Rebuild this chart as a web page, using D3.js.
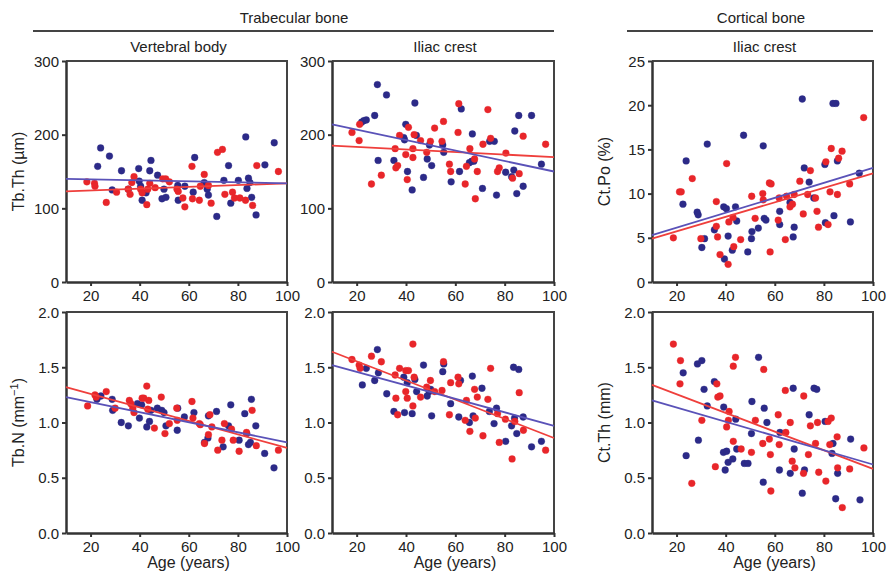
<!DOCTYPE html>
<html>
<head>
<meta charset="utf-8">
<script src="https://d3js.org/d3.v7.min.js"></script>
<style>
  body { margin: 0; background: #fff; }
  svg text { font-family: "Liberation Sans", Arial, sans-serif; fill: #222; }
</style>
</head>
<body>
<svg id="chart" width="888" height="573"></svg>
<script>
  // ---- data (age in years, measured value) ----
  const ageTicks = [20, 40, 60, 80, 100];

  const vbThBlue = [[22.9,157],[24.1,182],[27.7,171],[28.8,125],[32.6,151],[35.4,126],[39.6,154],[39.8,137],[40.4,130],[41.0,111],[42.6,121],[44.1,151],[44.6,165],[47.3,145],[49.1,113],[49.9,126],[50.7,115],[55.5,131],[55.7,111],[58.4,130],[61.8,122],[62.4,169],[66.3,135],[67.5,126],[68.0,118],[71.4,89],[74.3,138],[76.2,158],[77.1,107],[80.2,138],[83.2,197],[83.7,127],[84.3,141],[84.9,135],[85.6,115],[87.4,91],[91.0,159],[94.8,189]];
  const vbThRed = [[18.5,136],[21.6,134],[21.8,130],[26.4,108],[30.6,122],[35.3,126],[36.1,119],[36.8,135],[37.7,143],[40.4,126],[41.0,121],[42.9,105],[43.3,126],[44.1,134],[46.3,128],[49.4,140],[50.6,140],[52.1,136],[55.2,126],[55.7,123],[57.6,114],[58.4,102],[61.3,157],[61.5,113],[64.3,111],[64.7,130],[66.3,146],[68.0,131],[69.1,107],[71.7,176],[73.7,180],[74.7,119],[77.8,122],[78.6,114],[80.8,114],[83.1,111],[86.0,104],[87.7,158],[96.5,150]];

  const icThBlue = [[22.0,217],[22.9,219],[23.9,220],[27.3,226],[28.4,268],[28.7,165],[32.1,254],[35.1,165],[39.1,196],[39.4,193],[39.9,214],[40.6,150],[42.5,125],[43.6,243],[44.2,199],[47.1,142],[48.6,167],[49.5,186],[50.4,158],[54.9,186],[55.3,176],[58.3,136],[61.7,150],[62.4,235],[65.7,162],[66.7,164],[67.5,164],[66.9,201],[71.0,127],[73.9,191],[75.8,191],[76.7,118],[80.4,149],[82.8,143],[83.7,152],[84.1,205],[84.9,120],[85.7,226],[87.5,130],[90.9,226],[94.9,160]];
  const icThRed = [[18.1,203],[21.0,192],[21.2,214],[26.0,133],[30.0,145],[35.6,181],[35.9,155],[36.6,158],[37.4,199],[39.9,173],[40.5,139],[41.0,210],[42.8,181],[42.8,169],[43.3,200],[45.9,192],[48.4,176],[49.9,191],[51.6,209],[54.6,191],[55.2,218],[57.6,160],[58.1,150],[61.1,203],[61.4,242],[64.0,133],[64.5,157],[65.9,181],[67.8,167],[68.1,113],[68.9,150],[71.2,187],[73.2,234],[74.3,195],[77.1,150],[77.8,155],[80.5,175],[83.2,141],[85.9,147],[87.5,198],[96.6,187]];

  const ctPoBlue = [[22.6,8.8],[23.9,13.7],[28.4,7.9],[28.8,7.6],[30.3,3.9],[31.4,4.9],[32.5,15.6],[35.4,5.9],[39.2,8.5],[39.5,2.6],[40.3,8.3],[41.0,5.2],[42.7,3.6],[44.0,8.5],[44.5,6.9],[47.3,16.6],[49.0,3.4],[50.5,4.9],[50.7,5.7],[53.3,6.1],[55.3,15.4],[55.7,7.2],[56.4,7.0],[62.0,8.0],[62.0,6.5],[66.2,9.0],[67.5,5.1],[67.9,6.2],[71.2,20.7],[72.0,12.9],[74.0,11.3],[75.9,9.5],[80.6,6.7],[80.4,13.3],[83.7,20.2],[84.9,20.2],[84.1,7.5],[85.5,13.7],[90.8,6.8],[94.4,12.3]];
  const ctPoRed = [[18.7,5.0],[21.2,10.2],[21.9,10.2],[26.4,11.7],[29.9,4.9],[36.2,9.1],[36.2,6.3],[36.7,5.1],[37.7,3.1],[40.4,13.4],[41.0,2.0],[41.3,6.8],[43.0,7.3],[43.3,4.0],[46.1,4.8],[50.6,9.7],[52.0,7.2],[55.1,10.0],[55.3,9.3],[57.8,11.2],[58.5,11.1],[58.1,3.4],[61.4,7.0],[61.8,9.5],[64.3,4.8],[64.8,9.7],[66.2,8.5],[67.2,8.8],[67.9,9.9],[70.2,11.4],[71.6,7.7],[73.4,9.9],[74.5,12.6],[76.6,9.5],[77.2,8.0],[77.8,6.2],[80.8,13.6],[81.7,6.5],[82.5,10.2],[83.0,15.1],[85.5,9.9],[86.0,14.0],[87.4,14.8],[90.5,11.1],[96.2,18.6]];

  const vbNBlue = [[22.6,1.21],[24.2,1.24],[28.8,1.21],[29.0,1.11],[32.5,1.00],[35.4,0.97],[39.1,1.17],[39.9,1.04],[40.8,1.16],[42.9,0.96],[44.0,1.01],[44.6,1.11],[47.2,1.13],[49.0,1.11],[49.9,1.09],[50.7,0.97],[55.5,1.13],[55.3,0.93],[58.2,1.05],[62.1,1.09],[66.4,0.82],[67.8,0.86],[68.0,1.06],[71.3,1.10],[74.0,0.78],[76.2,0.97],[77.1,1.16],[80.5,0.84],[82.8,1.08],[83.6,0.90],[84.3,0.80],[85.1,0.82],[85.5,1.21],[87.3,0.97],[90.9,0.72],[94.7,0.59]];
  const vbNRed = [[18.8,1.15],[21.8,1.25],[22.3,1.23],[26.4,1.28],[30.0,1.13],[35.8,1.20],[36.4,1.17],[37.2,1.13],[37.7,1.09],[41.0,1.22],[41.7,1.22],[42.9,1.33],[43.3,1.12],[43.7,1.20],[46.0,0.95],[48.8,1.23],[50.3,0.90],[52.1,0.99],[55.1,1.13],[55.3,1.02],[61.3,1.19],[61.7,1.04],[64.3,0.99],[64.7,0.98],[66.4,0.81],[68.0,0.89],[68.6,1.07],[69.4,0.96],[71.8,0.75],[73.5,0.84],[74.5,0.99],[77.4,0.94],[78.1,0.84],[80.5,0.74],[83.5,0.91],[85.8,1.11],[87.5,0.79],[96.5,0.75]];

  const icNBlue = [[22.3,1.34],[23.9,1.49],[27.3,1.38],[28.4,1.66],[28.8,1.45],[32.2,1.26],[35.1,1.10],[39.1,1.41],[39.4,1.09],[40.5,1.36],[42.5,1.08],[43.6,1.39],[44.3,1.28],[47.1,1.52],[48.6,1.24],[49.4,1.28],[50.0,1.30],[50.4,1.06],[54.9,1.46],[55.3,1.53],[58.1,1.17],[61.4,1.05],[62.1,1.38],[65.7,1.00],[66.9,1.42],[67.2,1.06],[70.8,1.31],[73.8,1.10],[75.7,0.99],[76.7,1.13],[80.4,0.83],[82.8,0.97],[83.6,1.50],[84.0,1.04],[84.9,0.90],[85.7,1.48],[87.5,1.05],[90.9,0.78],[94.9,0.83]];
  const icNRed = [[18.1,1.57],[21.0,1.52],[21.4,1.49],[26.0,1.60],[30.0,1.55],[35.6,1.43],[35.9,1.22],[36.6,1.07],[37.4,1.49],[39.9,1.47],[39.9,1.28],[40.5,1.22],[41.0,1.47],[42.8,1.15],[42.8,1.71],[43.3,1.41],[45.9,1.23],[48.4,1.32],[49.9,1.38],[51.6,1.28],[54.6,1.29],[55.2,1.55],[57.6,1.07],[58.1,1.36],[61.1,1.41],[61.4,1.35],[64.0,1.02],[64.5,1.20],[65.9,0.92],[67.8,1.30],[68.1,1.04],[68.9,1.23],[71.2,0.88],[73.2,1.21],[74.3,1.49],[77.1,1.08],[77.8,0.82],[80.3,1.03],[83.0,0.67],[84.1,1.01],[85.9,1.27],[87.6,0.93],[96.6,0.75]];

  const ctThBlue = [[22.7,1.45],[23.9,0.70],[28.5,1.53],[28.9,0.84],[30.3,1.56],[31.2,1.30],[32.5,1.15],[35.4,1.37],[39.2,1.14],[39.1,0.73],[39.8,0.57],[40.4,0.74],[41.0,0.64],[42.9,0.67],[44.1,1.03],[44.5,0.76],[47.6,0.63],[49.1,0.63],[50.5,0.90],[50.7,1.19],[53.4,1.59],[55.3,0.46],[55.7,1.13],[56.8,1.00],[62.1,0.91],[61.9,0.57],[66.3,0.54],[67.5,1.31],[67.9,0.76],[71.2,0.36],[72.1,0.57],[74.0,1.07],[76.0,1.31],[77.1,1.30],[80.5,1.01],[83.7,0.81],[83.3,0.72],[84.8,0.31],[85.6,0.54],[90.9,0.85],[94.7,0.30]];
  const ctThRed = [[18.7,1.71],[21.6,1.56],[21.4,1.35],[26.2,0.45],[30.3,1.02],[35.8,0.60],[36.4,1.35],[36.8,1.23],[37.7,1.24],[40.4,0.96],[41.1,1.02],[41.4,1.10],[43.1,1.51],[43.1,0.83],[44.0,1.59],[46.3,0.76],[50.5,0.73],[52.1,1.02],[55.1,0.81],[55.5,1.48],[57.8,0.85],[58.2,0.71],[58.4,0.38],[61.4,1.07],[61.8,0.80],[64.5,0.91],[64.3,1.29],[66.3,1.00],[67.1,0.65],[68.2,0.59],[71.7,0.54],[71.8,1.24],[73.7,0.71],[74.5,0.97],[76.6,0.81],[77.4,1.00],[77.9,0.55],[80.8,0.47],[81.7,1.01],[82.4,0.80],[83.0,1.04],[85.4,0.87],[85.6,0.59],[87.5,0.23],[90.5,0.58],[96.3,0.77]];

  // regression lines: value at age 10 and at age 100
  const fitAges = [10, 100];
  const vbThFit = { blue: [140, 134], red: [123, 134] };
  const icThFit = { blue: [214, 150], red: [185, 169.5] };
  const ctPoFit = { blue: [5.3, 12.9], red: [4.9, 12.3] };
  const vbNFit = { blue: [1.23, 0.82], red: [1.32, 0.77] };
  const icNFit = { blue: [1.52, 0.97], red: [1.64, 0.86] };
  const ctThFit = { blue: [1.20, 0.62], red: [1.34, 0.58] };

  const thTicks = [0, 100, 200, 300];
  const poTicks = [0, 5, 10, 15, 20, 25];
  const nTicks = [0, 0.5, 1.0, 1.5, 2.0];

  // ---- layout ----
  const cols = [[66, 287], [332, 554], [652, 873]];
  const rows = [[61, 282], [312, 533]];
  const blueDot = "#2c2a88", redDot = "#e8262a";
  const blueLine = "#5a52b8", redLine = "#ef3f3c";

  const panels = [
    { c: 0, r: 0, blue: vbThBlue, red: vbThRed, fit: vbThFit, y: [0, 300], ticks: thTicks, fmt: d3.format("d"), sub: "Vertebral body", ylab: "Tb.Th (\u00b5m)" },
    { c: 1, r: 0, blue: icThBlue, red: icThRed, fit: icThFit, y: [0, 300], ticks: thTicks, fmt: d3.format("d"), sub: "Iliac crest" },
    { c: 2, r: 0, blue: ctPoBlue, red: ctPoRed, fit: ctPoFit, y: [0, 25], ticks: poTicks, fmt: d3.format("d"), sub: "Iliac crest", ylab: "Ct.Po (%)" },
    { c: 0, r: 1, blue: vbNBlue, red: vbNRed, fit: vbNFit, y: [0, 2], ticks: nTicks, fmt: d3.format(".1f"), ylab: "tbn", xlab: true },
    { c: 1, r: 1, blue: icNBlue, red: icNRed, fit: icNFit, y: [0, 2], ticks: nTicks, fmt: d3.format(".1f"), xlab: true },
    { c: 2, r: 1, blue: ctThBlue, red: ctThRed, fit: ctThFit, y: [0, 2], ticks: nTicks, fmt: d3.format(".1f"), ylab: "Ct.Th (mm)", xlab: true }
  ];

  const svg = d3.select("#chart");

  // group headers
  svg.append("line").attr("x1", 33).attr("x2", 554).attr("y1", 31).attr("y2", 31)
    .attr("stroke", "#444").attr("stroke-width", 2);
  svg.append("text").attr("x", 294).attr("y", 23).attr("text-anchor", "middle")
    .style("font-size", "15px").text("Trabecular bone");
  svg.append("line").attr("x1", 627).attr("x2", 873).attr("y1", 31).attr("y2", 31)
    .attr("stroke", "#444").attr("stroke-width", 2);
  svg.append("text").attr("x", 761).attr("y", 23).attr("text-anchor", "middle")
    .style("font-size", "15px").text("Cortical bone");

  panels.forEach(p => {
    const [x0, x1] = cols[p.c], [y0, y1] = rows[p.r];
    const x = d3.scaleLinear().domain([10, 100]).range([x0, x1]);
    const y = d3.scaleLinear().domain(p.y).range([y1, y0]);
    const g = svg.append("g");

    // frame (top and right)
    g.append("path").attr("d", `M${x0},${y0}H${x1}V${y1}`)
      .attr("fill", "none").attr("stroke", "#444").attr("stroke-width", 2);

    const ya = g.append("g").attr("transform", `translate(${x0},0)`)
      .call(d3.axisLeft(y).tickValues(p.ticks).tickFormat(p.fmt).tickSize(4).tickSizeOuter(0));
    const xa = g.append("g").attr("transform", `translate(0,${y1})`)
      .call(d3.axisBottom(x).tickValues(ageTicks).tickSize(4).tickSizeOuter(0));
    [ya, xa].forEach(a => {
      a.select(".domain").attr("stroke", "#333").attr("stroke-width", 2.5);
      a.selectAll(".tick line").attr("stroke", "#333").attr("stroke-width", 2);
      a.selectAll(".tick text").style("font-size", "15px").attr("fill", "#222");
    });
    ya.selectAll(".tick text").attr("x", -7).attr("dy", "0.34em");
    xa.selectAll(".tick text").attr("y", 7).attr("dy", "0.8em");

    // points
    [[p.blue, blueDot], [p.red, redDot]].forEach(([pts, col]) => {
      g.append("g").selectAll("circle").data(pts).join("circle")
        .attr("cx", d => x(d[0])).attr("cy", d => y(d[1])).attr("r", 3.4)
        .attr("fill", col).attr("stroke", col).attr("stroke-opacity", 0.35).attr("stroke-width", 1);
    });

    // fit lines
    [[p.fit.red, redLine], [p.fit.blue, blueLine]].forEach(([f, col]) => {
      g.append("line")
        .attr("x1", x(fitAges[0])).attr("y1", y(f[0]))
        .attr("x2", x(fitAges[1])).attr("y2", y(f[1]))
        .attr("stroke", col).attr("stroke-width", 1.8);
    });

    if (p.sub) {
      svg.append("text").attr("x", (x0 + x1) / 2 + 2).attr("y", 52).attr("text-anchor", "middle")
        .style("font-size", "15px").text(p.sub);
    }
    if (p.xlab) {
      svg.append("text").attr("x", (x0 + x1) / 2 + 12).attr("y", 568).attr("text-anchor", "middle")
        .style("font-size", "16px").text("Age (years)");
    }
    if (p.ylab) {
      const lx = p.c === 0 ? 24 : 610;
      const t = svg.append("text")
        .attr("transform", `translate(${lx},${(y0 + y1) / 2}) rotate(-90)`)
        .attr("text-anchor", "middle").style("font-size", "16px");
      if (p.ylab === "tbn") {
        t.append("tspan").text("Tb.N (mm");
        t.append("tspan").attr("dy", -6).style("font-size", "11px").text("\u22121");
        t.append("tspan").attr("dy", 6).text(")");
      } else {
        t.text(p.ylab);
      }
    }
  });
</script>
</body>
</html>
